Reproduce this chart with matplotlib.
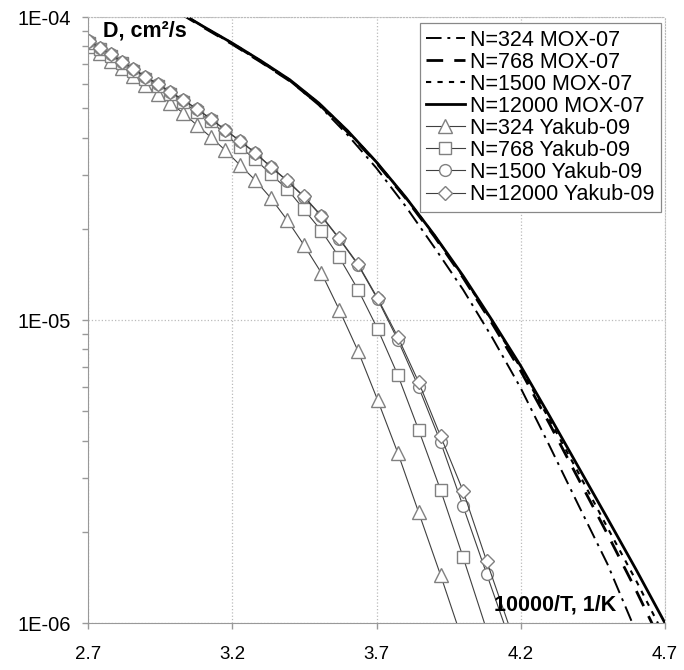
import matplotlib
matplotlib.use("Agg")
import matplotlib.pyplot as plt
from matplotlib.ticker import FixedLocator, LogLocator, NullFormatter

plt.rcParams['font.family'] = ['Liberation Sans', 'DejaVu Sans']

# MOX-07 curves
moxX = [2.9, 3.0, 3.1, 3.2, 3.3, 3.4, 3.5, 3.6, 3.7, 3.8, 3.9, 4.0, 4.1, 4.2, 4.3, 4.4, 4.5, 4.6, 4.7]
mox324 = [1.22e-4, 1.06e-4, 9.3e-5, 8.14e-5, 7.10e-5, 6.15e-5, 5.12e-5, 4.08e-5, 3.17e-5, 2.38e-5,
	1.74e-5, 1.26e-5, 8.79e-6, 5.96e-6, 3.84e-6, 2.45e-6, 1.57e-6, 9.34e-7, 5.5e-7]
mox768 = [1.21e-4, 1.055e-4, 9.25e-5, 8.14e-5, 7.10e-5, 6.15e-5, 5.16e-5, 4.17e-5, 3.30e-5, 2.53e-5,
	1.89e-5, 1.38e-5, 9.77e-6, 6.79e-6, 4.54e-6, 2.99e-6, 1.97e-6, 1.28e-6, 8.14e-7]
mox1500 = [1.22e-4, 1.06e-4, 9.3e-5, 8.2e-5, 7.16e-5, 6.2e-5, 5.2e-5, 4.21e-5, 3.32e-5, 2.55e-5,
	1.91e-5, 1.39e-5, 9.92e-6, 6.94e-6, 4.68e-6, 3.13e-6, 2.07e-6, 1.38e-6, 8.99e-7]
mox12000 = [1.22e-4, 1.06e-4, 9.3e-5, 8.2e-5, 7.16e-5, 6.2e-5, 5.2e-5, 4.21e-5, 3.32e-5, 2.55e-5,
	1.91e-5, 1.40e-5, 1.0e-5, 7.05e-6, 4.82e-6, 3.27e-6, 2.22e-6, 1.50e-6, 1.0e-6]

# Yakub-09 points
yakX = [2.703, 2.740, 2.778, 2.817, 2.857, 2.899, 2.941, 2.985, 3.030, 3.077, 3.125, 3.175, 3.226,
	3.279, 3.333, 3.390, 3.448, 3.509, 3.571, 3.636, 3.704, 3.774, 3.846, 3.922, 4.000, 4.082, 4.167]
yak324 = [8.02e-5, 7.61e-5, 7.16e-5, 6.79e-5, 6.39e-5, 5.96e-5, 5.57e-5, 5.20e-5, 4.82e-5, 4.40e-5,
	4.02e-5, 3.64e-5, 3.25e-5, 2.90e-5, 2.53e-5, 2.14e-5, 1.77e-5, 1.43e-5, 1.08e-5, 7.90e-6,
	5.44e-6, 3.64e-6, 2.32e-6, 1.44e-6, 8.65e-7]
yak768 = [8.21e-5, 7.84e-5, 7.43e-5, 7.05e-5, 6.63e-5, 6.24e-5, 5.92e-5, 5.57e-5, 5.24e-5, 4.86e-5,
	4.54e-5, 4.11e-5, 3.72e-5, 3.40e-5, 3.03e-5, 2.71e-5, 2.32e-5, 1.97e-5, 1.61e-5, 1.26e-5,
	9.34e-6, 6.58e-6, 4.34e-6, 2.75e-6, 1.65e-6, 9.48e-7]
yak1500 = [8.33e-5, 7.90e-5, 7.55e-5, 7.10e-5, 6.73e-5, 6.34e-5, 6.01e-5, 5.65e-5, 5.32e-5, 4.97e-5,
	4.61e-5, 4.24e-5, 3.90e-5, 3.56e-5, 3.20e-5, 2.88e-5, 2.55e-5, 2.20e-5, 1.85e-5, 1.52e-5,
	1.17e-5, 8.59e-6, 6.01e-6, 3.96e-6, 2.43e-6, 1.45e-6, 8.52e-7]
yak12000 = [8.35e-5, 7.92e-5, 7.55e-5, 7.12e-5, 6.75e-5, 6.36e-5, 6.02e-5, 5.66e-5, 5.33e-5, 4.98e-5,
	4.62e-5, 4.25e-5, 3.91e-5, 3.57e-5, 3.21e-5, 2.89e-5, 2.56e-5, 2.21e-5, 1.86e-5, 1.53e-5,
	1.18e-5, 8.79e-6, 6.24e-6, 4.14e-6, 2.73e-6, 1.60e-6, 9.34e-7]

xTicks = [2.7, 3.2, 3.7, 4.2, 4.7]
yTicks = [1e-6, 1e-5, 1e-4]
yTickLabels = ["1E-06", "1E-05", "1E-04"]


def plotChart():
	fig = plt.figure(figsize=(6.84, 6.70), dpi=100)
	ax = fig.add_axes([0.1287, 0.0701, 0.8435, 0.9045])
	ax.set_yscale('log')
	ax.set_xlim(2.7, 4.7)
	ax.set_ylim(1e-6, 1e-4)

	ax.plot(moxX, mox324, color='black', lw=1.4, dashes=(8, 3, 1.5, 3), label='N=324 MOX-07')
	ax.plot(moxX, mox768, color='black', lw=2.0, dashes=(6, 4), label='N=768 MOX-07')
	ax.plot(moxX, mox1500, color='black', lw=1.5, dashes=(2.5, 3), label='N=1500 MOX-07')
	ax.plot(moxX, mox12000, color='black', lw=2.0, label='N=12000 MOX-07')

	mk = dict(color='#404040', lw=0.8, markerfacecolor='white', markeredgecolor='#808080', markeredgewidth=1.0)
	ax.plot(yakX[:len(yak324)], yak324, marker='^', markersize=10, label='N=324 Yakub-09', **mk)
	ax.plot(yakX[:len(yak768)], yak768, marker='s', markersize=8, label='N=768 Yakub-09', **mk)
	ax.plot(yakX, yak1500, marker='o', markersize=8.5, label='N=1500 Yakub-09', **mk)
	ax.plot(yakX, yak12000, marker='D', markersize=7, label='N=12000 Yakub-09', **mk)

	ax.xaxis.set_major_locator(FixedLocator(xTicks))
	ax.set_xticklabels([str(v) for v in xTicks])
	ax.yaxis.set_major_locator(FixedLocator(yTicks))
	ax.set_yticklabels(yTickLabels)
	ax.yaxis.set_minor_locator(LogLocator(base=10, subs=range(2, 10)))
	ax.yaxis.set_minor_formatter(NullFormatter())
	ax.tick_params(axis='both', which='major', color='#999999', length=4.5, width=1)
	ax.tick_params(axis='x', which='major', labelsize=13.5, pad=12)
	ax.tick_params(axis='y', which='major', labelsize=14.5, pad=8)
	ax.tick_params(axis='y', which='minor', color='#999999', length=4.5, width=1)

	ax.grid(True, which='major', color='#bbbbbb', linestyle=':', lw=0.9)
	for s in ['left', 'bottom']:
		ax.spines[s].set_color('#999999')
	for s in ['top', 'right']:
		ax.spines[s].set_color('#bbbbbb')
		ax.spines[s].set_linestyle(':')

	ax.text(0.026, 0.995, "D, cm²/s", transform=ax.transAxes, fontsize=15.5, fontweight='bold', va='top', ha='left')
	ax.text(0.703, 0.02, "10000/T, 1/K", transform=ax.transAxes, fontsize=15.5, fontweight='bold', va='baseline', ha='left')

	leg = ax.legend(loc='upper right', bbox_to_anchor=(0.993, 0.99), fontsize=15.5, frameon=True, fancybox=False,
		edgecolor='#888888', framealpha=1, borderaxespad=0, handlelength=1.8, handletextpad=0.25,
		labelspacing=0.05, borderpad=0.3)
	leg.get_frame().set_linewidth(0.9)

	fig.savefig("out.png", dpi=100)


def main():
	plotChart()
	pass

main()
